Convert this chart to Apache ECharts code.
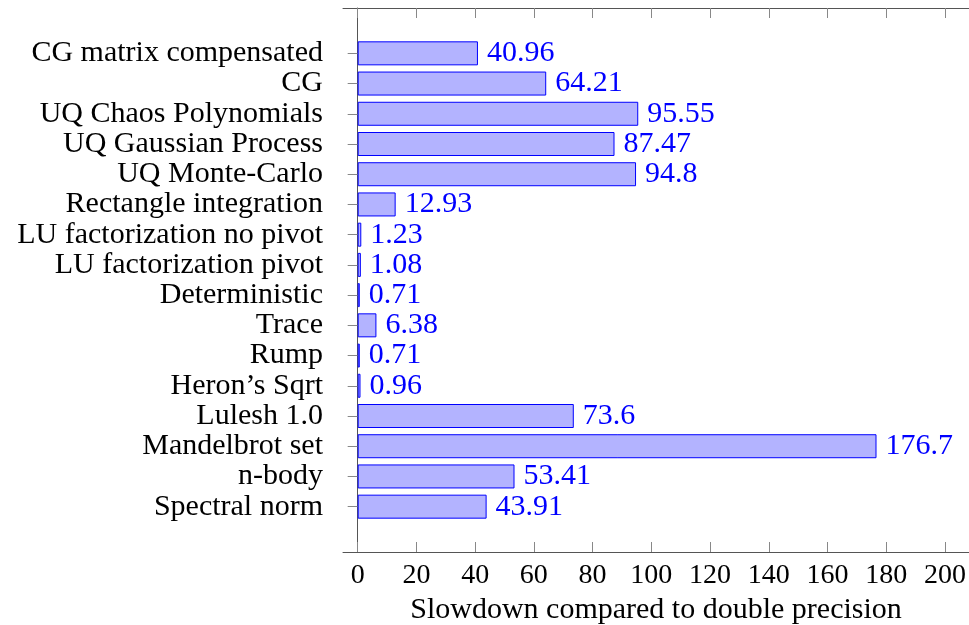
<!DOCTYPE html>
<html>
<head>
<meta charset="utf-8">
<style>
    html, body { margin: 0; padding: 0; background: #fff; }
    #main { width: 969px; height: 625px; }
</style>
<script src="https://cdn.jsdelivr.net/npm/echarts@6/dist/echarts.min.js"></script>
</head>
<body>
<div id="main"></div>
<script>
    // benchmarks, top to bottom
    var categories = [
        'CG matrix compensated', 'CG', 'UQ Chaos Polynomials', 'UQ Gaussian Process',
        'UQ Monte-Carlo', 'Rectangle integration', 'LU factorization no pivot',
        'LU factorization pivot', 'Deterministic', 'Trace', 'Rump', 'Heron\u2019s Sqrt',
        'Lulesh 1.0', 'Mandelbrot set', 'n-body', 'Spectral norm'
    ];
    var slowdown = [40.96, 64.21, 95.55, 87.47, 94.8, 12.93, 1.23, 1.08, 0.71, 6.38, 0.71, 0.96, 73.6, 176.7, 53.41, 43.91];
    var xTicks = [0, 20, 40, 60, 80, 100, 120, 140, 160, 180, 200];

    var font = 'Liberation Serif';

    // one empty slot at each end gives the padding pgfplots leaves
    var cats = [''].concat(categories, ['']);
    var vals = ['-'].concat(slowdown, ['-']);

    var my_chart = echarts.init(document.getElementById('main'));
    var option = {
        animation: false,
        grid: { left: 343, right: 0, top: 8, bottom: 73, outerBoundsMode: 'none', containLabel: false },
        xAxis: [{
            type: 'value',
            min: -5,
            max: 208.2,
            position: 'bottom',
            name: 'Slowdown compared to double precision',
            nameLocation: 'middle',
            nameGap: 40,
            nameTextStyle: { fontFamily: font, fontSize: 30, color: '#000' },
            splitLine: { show: false },
            axisLine: { show: true, lineStyle: { color: '#555', width: 1 } },
            axisTick: { show: true, inside: true, length: 10, customValues: xTicks, lineStyle: { color: '#888' } },
            axisLabel: { customValues: xTicks, fontFamily: font, fontSize: 28, color: '#000', margin: 10 }
        }, {
            type: 'value',
            min: -5,
            max: 208.2,
            position: 'top',
            splitLine: { show: false },
            axisLine: { show: true, lineStyle: { color: '#555', width: 1 } },
            axisTick: { show: true, inside: true, length: 10, customValues: xTicks, lineStyle: { color: '#888' } },
            axisLabel: { show: false }
        }],
        yAxis: {
            type: 'category',
            data: cats,
            inverse: true,
            axisLine: { show: true, lineStyle: { color: '#555', width: 1 } },
            axisTick: {
                show: true,
                alignWithLabel: true,
                length: 10,
                interval: function (idx, val) { return val !== ''; },
                lineStyle: { color: '#888' }
            },
            axisLabel: { fontFamily: font, fontSize: 30, color: '#000', margin: 20, interval: 0 }
        },
        series: [{
            type: 'bar',
            data: vals,
            barWidth: 24,
            itemStyle: { color: '#b3b3ff', borderColor: '#0000ff', borderWidth: 1 },
            label: {
                show: true,
                position: 'right',
                distance: 9,
                fontFamily: font,
                fontSize: 30,
                color: '#0000ff'
            }
        }]
    };
    my_chart.setOption(option);
</script>
</body>
</html>
